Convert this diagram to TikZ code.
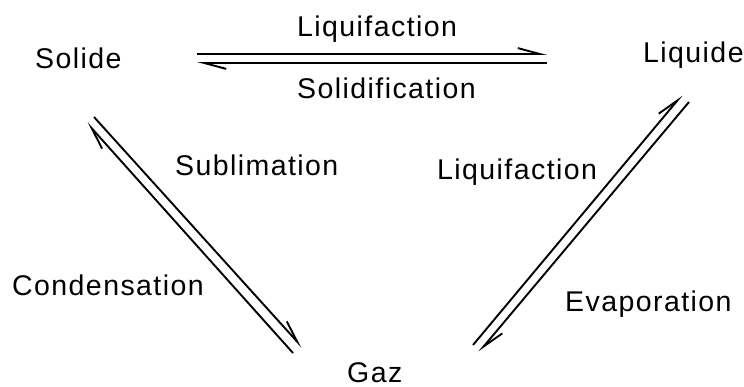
\documentclass[tikz,border=0pt]{standalone}
\usepackage{fontspec}
\setmainfont{Liberation Sans}[LetterSpace=5]
\usetikzlibrary{arrows.meta}
\begin{document}
\begin{tikzpicture}[x=1pt,y=-1pt,
  label/.style={anchor=base west,inner sep=0pt,font=\fontsize{28.5}{34}\selectfont},
  flow/.style={line width=1.9pt,-{Straight Barb[harpoon,length=22pt,angle'=30,line cap=butt]}}]
\useasboundingbox (0,0) rectangle (744,387);
% states and transition names
\node[label] (solide) at (35,69) {Solide};
\node[label] (liquide) at (643,63) {Liquide};
\node[label] (gaz) at (347,382) {Gaz};
\node[label] (liqtop) at (297,37) {Liquifaction};
\node[label] (solid) at (297,99) {Solidification};
\node[label] (subl) at (175,176) {Sublimation};
\node[label] (liqright) at (437,180) {Liquifaction};
\node[label] (cond) at (12,295) {Condensation};
\node[label] (evap) at (565,312) {Evaporation};
% end points of the paired arrows
\coordinate (t1a) at (197,54); \coordinate (t1b) at (547,54);
\coordinate (t2a) at (547,63); \coordinate (t2b) at (197,63);
\coordinate (l1a) at (293,353); \coordinate (l1b) at (87,123);
\coordinate (l2a) at (94,117); \coordinate (l2b) at (302,347);
\coordinate (r1a) at (473,345); \coordinate (r1b) at (682,95);
\coordinate (r2a) at (689,102); \coordinate (r2b) at (479,352);
% solide <-> liquide
\draw[flow] (t1a) -- (t1b);
\draw[flow] (t2a) -- (t2b);
% solide <-> gaz
\draw[flow] (l1a) -- (l1b);
\draw[flow] (l2a) -- (l2b);
% gaz <-> liquide
\draw[flow] (r1a) -- (r1b);
\draw[flow] (r2a) -- (r2b);
\end{tikzpicture}
\end{document}
